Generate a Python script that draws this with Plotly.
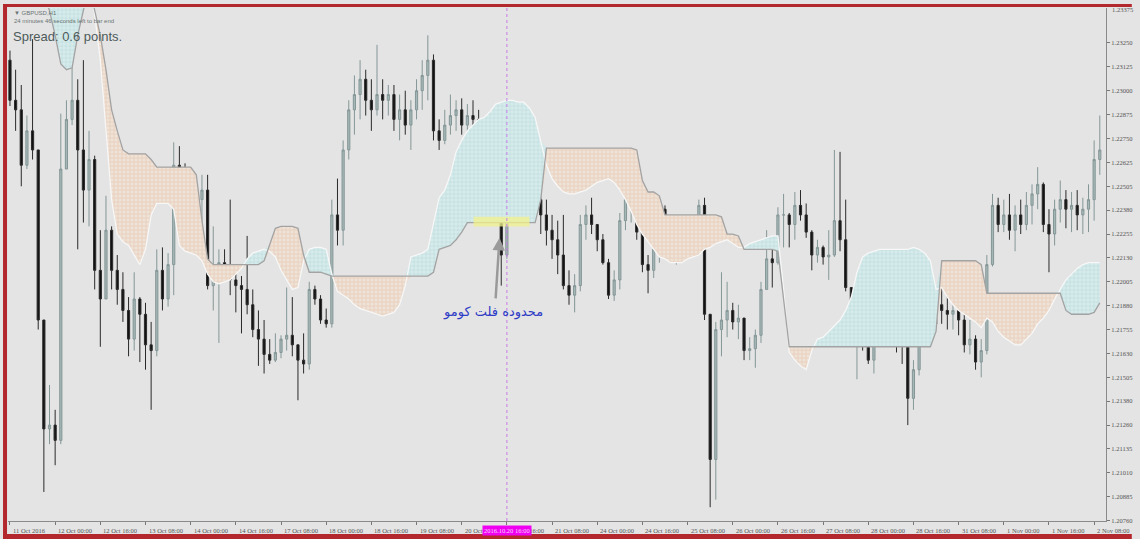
import numpy as np
import plotly.graph_objects as go

# ---------------- data (GBPUSD, bars of ~2h) ----------------
OPEN_FIRST = 1.2316

HIGH = [1.2321, 1.2311, 1.2303, 1.2287, 1.2327, 1.2269, 1.2180, 1.2146, 1.2133, 1.2288,
        1.2295, 1.2318, 1.2306, 1.2316, 1.2279, 1.2266, 1.2227, 1.2245, 1.2229, 1.2214,
        1.2205, 1.2192, 1.2205, 1.2192, 1.2189, 1.2179, 1.2217, 1.2218, 1.2215, 1.2273,
        1.2271, 1.2262, 1.2253, 1.2248, 1.2256, 1.2256, 1.2229, 1.2217, 1.2217, 1.2243,
        1.2207, 1.2203, 1.2224, 1.2196, 1.2185, 1.2180, 1.2170, 1.2173, 1.2172, 1.2197,
        1.2192, 1.2167, 1.2173, 1.2200, 1.2198, 1.2193, 1.2186, 1.2243, 1.2254, 1.2274,
        1.2295, 1.2308, 1.2316, 1.2311, 1.2306, 1.2324, 1.2306, 1.2303, 1.2303, 1.2298,
        1.2300, 1.2295, 1.2306, 1.2316, 1.2329, 1.2319, 1.2285, 1.2290, 1.2298, 1.2295,
        1.2296, 1.2293, 1.2295, 1.2290, 1.2285, 1.2277, 1.2272, 1.2269, 1.2259, 1.2269,
        1.2269, 1.2259, 1.2264, 1.2261, 1.2248, 1.2243, 1.2235, 1.2232, 1.2235, 1.2206,
        1.2204, 1.2235, 1.2240, 1.2244, 1.2230, 1.2225, 1.2212, 1.2206, 1.2236, 1.2253,
        1.2251, 1.2246, 1.2234, 1.2214, 1.2220, 1.2243, 1.2240, 1.2226, 1.2223, 1.2230,
        1.2228, 1.2233, 1.2243, 1.2244, 1.2183, 1.2179, 1.2205, 1.2200, 1.2189, 1.2188,
        1.2181, 1.2171, 1.2175, 1.2200, 1.2227, 1.2218, 1.2239, 1.2246, 1.2236, 1.2247,
        1.2248, 1.2241, 1.2227, 1.2222, 1.2219, 1.2227, 1.2269, 1.2268, 1.2243, 1.2197,
        1.2180, 1.2180, 1.2172, 1.2182, 1.2186, 1.2191, 1.2185, 1.2183, 1.2178, 1.2171,
        1.2159, 1.2197, 1.2200, 1.2195, 1.2196, 1.2197, 1.2196, 1.2192, 1.2191, 1.2183,
        1.2180, 1.2172, 1.2170, 1.2214, 1.2246, 1.2244, 1.2243, 1.2246, 1.2240, 1.2243,
        1.2247, 1.2251, 1.2260, 1.2252, 1.2238, 1.2243, 1.2253, 1.2248, 1.2247, 1.2248,
        1.2244, 1.2251, 1.2274, 1.2287]

LOW = [1.2292, 1.2279, 1.2250, 1.2259, 1.2264, 1.2175, 1.2090, 1.2115, 1.2104, 1.2115,
       1.2259, 1.2282, 1.2217, 1.2231, 1.2229, 1.2196, 1.2166, 1.2191, 1.2196, 1.2188,
       1.2179, 1.2161, 1.2164, 1.2158, 1.2154, 1.2133, 1.2161, 1.2185, 1.2187, 1.2193,
       1.2251, 1.2243, 1.2224, 1.2218, 1.2219, 1.2196, 1.2185, 1.2168, 1.2201, 1.2193,
       1.2184, 1.2173, 1.2183, 1.2171, 1.2156, 1.2152, 1.2157, 1.2158, 1.2160, 1.2164,
       1.2161, 1.2138, 1.2152, 1.2154, 1.2188, 1.2178, 1.2176, 1.2176, 1.2219, 1.2219,
       1.2264, 1.2277, 1.2285, 1.2287, 1.2279, 1.2287, 1.2285, 1.2287, 1.2279, 1.2274,
       1.2277, 1.2269, 1.2285, 1.2290, 1.2295, 1.2274, 1.2269, 1.2272, 1.2277, 1.2279,
       1.2277, 1.2274, 1.2277, 1.2269, 1.2264, 1.2256, 1.2251, 1.2198, 1.2212, 1.2243,
       1.2238, 1.2238, 1.2240, 1.2235, 1.2225, 1.2219, 1.2212, 1.2204, 1.2196, 1.2188,
       1.2184, 1.2195, 1.2222, 1.2225, 1.2216, 1.2209, 1.2191, 1.2190, 1.2196, 1.2227,
       1.2231, 1.2222, 1.2205, 1.2194, 1.2202, 1.2210, 1.2214, 1.2212, 1.2209, 1.2214,
       1.2216, 1.2216, 1.2222, 1.2180, 1.2082, 1.2086, 1.2161, 1.2171, 1.2175, 1.2170,
       1.2159, 1.2159, 1.2155, 1.2168, 1.2196, 1.2197, 1.2209, 1.2218, 1.2218, 1.2222,
       1.2232, 1.2223, 1.2206, 1.2210, 1.2209, 1.2201, 1.2213, 1.2216, 1.2195, 1.2168,
       1.2149, 1.2164, 1.2157, 1.2152, 1.2171, 1.2174, 1.2169, 1.2163, 1.2157, 1.2125,
       1.2133, 1.2151, 1.2180, 1.2174, 1.2175, 1.2178, 1.2175, 1.2175, 1.2172, 1.2163,
       1.2162, 1.2154, 1.2150, 1.2162, 1.2208, 1.2226, 1.2226, 1.2222, 1.2216, 1.2225,
       1.2227, 1.2230, 1.2238, 1.2226, 1.2205, 1.2219, 1.2231, 1.2228, 1.2226, 1.2227,
       1.2225, 1.2226, 1.2232, 1.2256]

CLOSE = [1.2295, 1.2290, 1.2261, 1.2279, 1.2269, 1.2180, 1.2123, 1.2125, 1.2117, 1.2259,
         1.2285, 1.2295, 1.2269, 1.2248, 1.2264, 1.2206, 1.2191, 1.2227, 1.2206, 1.2196,
         1.2185, 1.2170, 1.2191, 1.2183, 1.2167, 1.2164, 1.2206, 1.2191, 1.2209, 1.2261,
         1.2256, 1.2251, 1.2227, 1.2243, 1.2248, 1.2198, 1.2201, 1.2210, 1.2206, 1.2201,
         1.2198, 1.2196, 1.2188, 1.2175, 1.2170, 1.2162, 1.2159, 1.2163, 1.2170, 1.2172,
         1.2167, 1.2159, 1.2157, 1.2196, 1.2191, 1.2180, 1.2178, 1.2235, 1.2227, 1.2269,
         1.2290, 1.2298, 1.2306, 1.2295, 1.2290, 1.2298, 1.2295, 1.2298, 1.2285, 1.2290,
         1.2282, 1.2290, 1.2300, 1.2308, 1.2316, 1.2279, 1.2274, 1.2282, 1.2287, 1.2290,
         1.2282, 1.2287, 1.2285, 1.2277, 1.2269, 1.2264, 1.2256, 1.2214, 1.2253, 1.2261,
         1.2243, 1.2253, 1.2248, 1.2243, 1.2235, 1.2227, 1.2222, 1.2214, 1.2198, 1.2193,
         1.2198, 1.2230, 1.2235, 1.2230, 1.2222, 1.2210, 1.2193, 1.2201, 1.2232, 1.2243,
         1.2246, 1.2226, 1.2209, 1.2206, 1.2217, 1.2238, 1.2222, 1.2214, 1.2219, 1.2226,
         1.2219, 1.2230, 1.2240, 1.2183, 1.2107, 1.2175, 1.2180, 1.2185, 1.2179, 1.2181,
         1.2164, 1.2165, 1.2172, 1.2196, 1.2212, 1.2210, 1.2235, 1.2235, 1.2230, 1.2240,
         1.2235, 1.2226, 1.2214, 1.2218, 1.2213, 1.2214, 1.2232, 1.2222, 1.2197, 1.2172,
         1.2175, 1.2167, 1.2159, 1.2178, 1.2183, 1.2185, 1.2172, 1.2170, 1.2167, 1.2139,
         1.2154, 1.2191, 1.2191, 1.2178, 1.2188, 1.2185, 1.2183, 1.2185, 1.2180, 1.2167,
         1.2170, 1.2158, 1.2164, 1.2209, 1.2240, 1.2230, 1.2235, 1.2227, 1.2235, 1.2230,
         1.2240, 1.2246, 1.2251, 1.2230, 1.2225, 1.2238, 1.2243, 1.2238, 1.2240, 1.2235,
         1.2238, 1.2243, 1.2264, 1.2269]

# Ichimoku cloud spans (A = light edge, B = grey edge)
SPAN_A = [1.2368, 1.2368, 1.2368, 1.2368, 1.2368, 1.2368, 1.2368, 1.2368, 1.2368, 1.2368,
          1.2368, 1.2368, 1.2368, 1.2368, 1.2358, 1.2340, 1.2316, 1.2277, 1.2243, 1.2225,
          1.2221, 1.2219, 1.2214, 1.2209, 1.2217, 1.2235, 1.2241, 1.2241, 1.2241, 1.2238,
          1.2219, 1.2216, 1.2215, 1.2214, 1.2211, 1.2204, 1.2200, 1.2199, 1.2200, 1.2201,
          1.2204, 1.2207, 1.2212, 1.2215, 1.2216, 1.2217, 1.2216, 1.2213, 1.2206, 1.2201,
          1.2196, 1.2197, 1.2211, 1.2217, 1.2218, 1.2218, 1.2217, 1.2204, 1.2195, 1.2193,
          1.2191, 1.2188, 1.2186, 1.2185, 1.2184, 1.2183, 1.2182, 1.2183, 1.2184, 1.2188,
          1.2198, 1.2213, 1.2214, 1.2215, 1.2217, 1.2231, 1.2244, 1.2248, 1.2256, 1.2268,
          1.2274, 1.2279, 1.2282, 1.2285, 1.2286, 1.2289, 1.2293, 1.2294, 1.2295, 1.2295,
          1.2294, 1.2294, 1.2291, 1.2286, 1.2274, 1.2261, 1.2254, 1.2250, 1.2247, 1.2246,
          1.2246, 1.2247, 1.2248, 1.2250, 1.2252, 1.2253, 1.2254, 1.2252, 1.2248, 1.2243,
          1.2237, 1.2230, 1.2225, 1.2221, 1.2217, 1.2213, 1.2212, 1.2210, 1.2210, 1.2210,
          1.2212, 1.2213, 1.2214, 1.2217, 1.2218, 1.2220, 1.2221, 1.2222, 1.2220, 1.2218,
          1.2218, 1.2220, 1.2221, 1.2222, 1.2223, 1.2224, 1.2224, 1.2196, 1.2163, 1.2159,
          1.2156, 1.2154, 1.2164, 1.2170, 1.2171, 1.2174, 1.2177, 1.2180, 1.2185, 1.2192,
          1.2205, 1.2213, 1.2215, 1.2216, 1.2217, 1.2217, 1.2217, 1.2217, 1.2217, 1.2217,
          1.2218, 1.2217, 1.2215, 1.2211, 1.2196, 1.2197, 1.2192, 1.2188, 1.2185, 1.2183,
          1.2181, 1.2179, 1.2176, 1.2181, 1.2179, 1.2174, 1.2171, 1.2169, 1.2167, 1.2167,
          1.2170, 1.2173, 1.2178, 1.2181, 1.2185, 1.2191, 1.2196, 1.2201, 1.2204, 1.2207,
          1.2209, 1.2210, 1.2210, 1.2210]

SPAN_B = [1.2358, 1.2358, 1.2358, 1.2358, 1.2358, 1.2358, 1.2350, 1.2342, 1.2329, 1.2314,
          1.2311, 1.2312, 1.2329, 1.2342, 1.2355, 1.2342, 1.2329, 1.2311, 1.2290, 1.2279,
          1.2269, 1.2267, 1.2267, 1.2267, 1.2267, 1.2264, 1.2260, 1.2260, 1.2260, 1.2260,
          1.2260, 1.2260, 1.2260, 1.2256, 1.2232, 1.2212, 1.2209, 1.2209, 1.2209, 1.2209,
          1.2209, 1.2209, 1.2209, 1.2209, 1.2209, 1.2211, 1.2219, 1.2228, 1.2229, 1.2229,
          1.2229, 1.2228, 1.2214, 1.2205, 1.2205, 1.2205, 1.2204, 1.2203, 1.2203, 1.2203,
          1.2203, 1.2203, 1.2203, 1.2203, 1.2203, 1.2203, 1.2203, 1.2203, 1.2203, 1.2203,
          1.2203, 1.2203, 1.2203, 1.2203, 1.2203, 1.2205, 1.2217, 1.2218, 1.2219, 1.2222,
          1.2226, 1.2231, 1.2231, 1.2231, 1.2231, 1.2231, 1.2231, 1.2231, 1.2231, 1.2231,
          1.2231, 1.2231, 1.2231, 1.2231, 1.2243, 1.2270, 1.2270, 1.2270, 1.2270, 1.2270,
          1.2270, 1.2270, 1.2270, 1.2270, 1.2270, 1.2270, 1.2270, 1.2270, 1.2270, 1.2270,
          1.2270, 1.2269, 1.2253, 1.2247, 1.2247, 1.2245, 1.2235, 1.2235, 1.2235, 1.2235,
          1.2235, 1.2235, 1.2235, 1.2235, 1.2235, 1.2235, 1.2234, 1.2225, 1.2225, 1.2224,
          1.2217, 1.2217, 1.2217, 1.2217, 1.2217, 1.2217, 1.2216, 1.2191, 1.2166, 1.2166,
          1.2166, 1.2166, 1.2166, 1.2166, 1.2166, 1.2166, 1.2166, 1.2166, 1.2166, 1.2166,
          1.2166, 1.2166, 1.2166, 1.2166, 1.2166, 1.2166, 1.2166, 1.2166, 1.2166, 1.2166,
          1.2166, 1.2166, 1.2166, 1.2166, 1.2174, 1.2211, 1.2211, 1.2211, 1.2211, 1.2211,
          1.2211, 1.2211, 1.2209, 1.2194, 1.2194, 1.2194, 1.2194, 1.2194, 1.2194, 1.2194,
          1.2194, 1.2194, 1.2194, 1.2194, 1.2194, 1.2194, 1.2194, 1.2185, 1.2183, 1.2183,
          1.2183, 1.2183, 1.2184, 1.2189]

X_LABELS = ["11 Oct 2016", "12 Oct 00:00", "12 Oct 16:00", "13 Oct 08:00", "14 Oct 00:00",
            "14 Oct 16:00", "17 Oct 08:00", "18 Oct 00:00", "18 Oct 16:00", "19 Oct 08:00",
            "20 Oct 00:00", "20 Oct 16:00", "21 Oct 08:00", "24 Oct 00:00", "24 Oct 16:00",
            "25 Oct 08:00", "26 Oct 00:00", "26 Oct 16:00", "27 Oct 08:00", "28 Oct 00:00",
            "28 Oct 16:00", "31 Oct 08:00", "1 Nov 00:00", "1 Nov 16:00", "2 Nov 08:00"]
BARS_PER_LABEL = 8

Y_TICK_VALUES = [1.23250, 1.23125, 1.23000, 1.22875, 1.22750, 1.22625, 1.22500, 1.22375,
                 1.22250, 1.22125, 1.22000, 1.21875, 1.21750, 1.21625, 1.21500, 1.21375,
                 1.21250, 1.21125, 1.21000, 1.20875, 1.20750]
Y_TICK_TEXT = ["1.23250", "1.23125", "1.23000", "1.22875", "1.22750", "1.22625", "1.22505",
               "1.22380", "1.22255", "1.22130", "1.22005", "1.21880", "1.21755", "1.21630",
               "1.21505", "1.21380", "1.21260", "1.21135", "1.21010", "1.20885", "1.20760"]
TOP_PRICE_TEXT = "1.23375"

SYMBOL_TEXT = "▼ GBPUSD,H1"
TIMER_TEXT = "24 minutes 46 seconds left to bar end"
SPREAD_TEXT = "Spread: 0.6 points."
CURSOR_TEXT = "2016.10.20 16:00"
CURSOR_BAR = 88
NOTE_TEXT = "محدوده فلت کومو"

# ---------------- figure ----------------
W, H = 1140, 539
ML, MR, MT, MB = 8, 26, 8, 18
PW, PH = W - ML - MR, H - MT - MB


def pxx(px):
    return (px - ML) / PW


def pxy(py):
    return (H - MB - py) / PH


n = len(CLOSE)
idx = list(range(n))
opens = [OPEN_FIRST] + CLOSE[:-1]
a = np.array(SPAN_A)
b = np.array(SPAN_B)
bull_edge = np.maximum(a, b)
bear_edge = np.minimum(a, b)

BG = "#e4e4e4"
fig = go.Figure()
nofill_line = dict(width=0, color="rgba(0,0,0,0)")

fig.add_trace(go.Scatter(x=idx, y=b, mode="lines", line=nofill_line, hoverinfo="skip"))
fig.add_trace(go.Scatter(x=idx, y=bull_edge, mode="lines", line=nofill_line, fill="tonexty",
                         fillcolor="#cfe6e7",
                         fillpattern=dict(shape="+", fgcolor="#a9d2d6", bgcolor="#d7ebeb",
                                          size=4, solidity=0.35),
                         hoverinfo="skip"))
fig.add_trace(go.Scatter(x=idx, y=b, mode="lines", line=nofill_line, hoverinfo="skip"))
fig.add_trace(go.Scatter(x=idx, y=bear_edge, mode="lines", line=nofill_line, fill="tonexty",
                         fillcolor="#ecd8c6",
                         fillpattern=dict(shape="+", fgcolor="#deb89c", bgcolor="#efe2d6",
                                          size=4, solidity=0.35),
                         hoverinfo="skip"))
fig.add_trace(go.Scatter(x=idx, y=SPAN_A, mode="lines", line=dict(color="#f7f7f7", width=1.3),
                         hoverinfo="skip"))
fig.add_trace(go.Scatter(x=idx, y=SPAN_B, mode="lines", line=dict(color="#a3a3a3", width=1.3),
                         hoverinfo="skip"))

fig.add_trace(go.Candlestick(
    x=idx, open=opens, high=HIGH, low=LOW, close=CLOSE,
    increasing=dict(line=dict(color="#849696", width=1), fillcolor="#a6b7b7"),
    decreasing=dict(line=dict(color="#2a2a2a", width=1), fillcolor="#121212"),
    whiskerwidth=0, hoverinfo="skip"))

annotations = []
label_font = dict(family="Liberation Serif", size=6.5, color="#555555")
for k, lab in enumerate(X_LABELS):
    annotations.append(dict(x=k * BARS_PER_LABEL, xref="x", y=pxy(530), yref="paper",
                            text=lab, showarrow=False, xanchor="left", yanchor="middle",
                            xshift=1, font=label_font))
annotations.append(dict(x=CURSOR_BAR, xref="x", y=pxy(530), yref="paper", text=CURSOR_TEXT,
                        showarrow=False, xanchor="center", yanchor="middle",
                        bgcolor="#f000f0", borderpad=1,
                        font=dict(family="Liberation Serif", size=6.5, color="#fbd6fb")))
annotations.append(dict(x=pxx(1118), xref="paper", y=pxy(9), yref="paper",
                        text=TOP_PRICE_TEXT, showarrow=False, xanchor="left",
                        yanchor="middle", font=label_font))
annotations.append(dict(x=pxx(12), xref="paper", y=pxy(13), yref="paper", text=SYMBOL_TEXT,
                        showarrow=False, xanchor="left", yanchor="middle",
                        font=dict(family="Liberation Sans", size=6, color="#6a7474")))
annotations.append(dict(x=pxx(12), xref="paper", y=pxy(21), yref="paper", text=TIMER_TEXT,
                        showarrow=False, xanchor="left", yanchor="middle",
                        font=dict(family="Liberation Sans", size=6, color="#6a7474")))
annotations.append(dict(x=pxx(11), xref="paper", y=pxy(36), yref="paper", text=SPREAD_TEXT,
                        showarrow=False, xanchor="left", yanchor="middle",
                        font=dict(family="Liberation Sans", size=13, color="#4c5a5a")))
# arrow pointing at the flat kumo
annotations.append(dict(x=86.7, xref="x", y=1.2223, yref="y", text="", showarrow=True,
                        ax=-4, ay=62, arrowcolor="#9a9a9a", arrowwidth=2.5,
                        arrowhead=2, arrowsize=1))
annotations.append(dict(x=85.6, xref="x", y=1.2184, yref="y", text=NOTE_TEXT,
                        showarrow=False, xanchor="center", yanchor="middle",
                        font=dict(family="DejaVu Sans", size=13, color="#2e3bc6")))

shapes = [
    # flat-kumo highlight
    dict(type="rect", xref="x", yref="y", x0=82.1, x1=92.0, y0=1.2229, y1=1.2234,
         fillcolor="rgba(242,242,140,0.75)", line=dict(width=0), layer="above"),
    # cursor line
    dict(type="line", xref="x", yref="paper", x0=CURSOR_BAR, x1=CURSOR_BAR, y0=0, y1=1,
         line=dict(color="#c77ce8", width=1, dash="dot")),
    # red frame
    dict(type="line", xref="paper", yref="paper", x0=pxx(5), x1=pxx(5), y0=pxy(539), y1=pxy(4),
         line=dict(color="#b3282c", width=4)),
    dict(type="line", xref="paper", yref="paper", x0=pxx(3), x1=pxx(1140), y0=pxy(5.5),
         y1=pxy(5.5), line=dict(color="#b3282c", width=3)),
    dict(type="line", xref="paper", yref="paper", x0=pxx(3), x1=pxx(1140), y0=pxy(536.5),
         y1=pxy(536.5), line=dict(color="#b3282c", width=5)),
]

fig.update_layout(
    width=W, height=H,
    margin=dict(l=ML, r=MR, t=MT, b=MB),
    paper_bgcolor=BG, plot_bgcolor=BG,
    showlegend=False, boxgap=0.45, dragmode=False,
    annotations=annotations, shapes=shapes,
    xaxis=dict(range=[-0.35, 194.1], showgrid=False, zeroline=False,
               tickvals=[k * BARS_PER_LABEL for k in range(len(X_LABELS))],
               ticks="outside", ticklen=3, tickcolor="#777777", showticklabels=False,
               showline=True, linecolor="#8a8a8a", linewidth=1,
               rangeslider=dict(visible=False), fixedrange=True),
    yaxis=dict(side="right", range=[1.20748, 1.23433], showgrid=False, zeroline=False,
               tickvals=Y_TICK_VALUES, ticktext=Y_TICK_TEXT, ticks="outside", ticklen=3,
               tickcolor="#777777", tickfont=label_font, showline=True,
               linecolor="#8a8a8a", linewidth=1, fixedrange=True),
)

# the page's default body margin would shift the 1140x539 figure; remove it
fig.write_html("out.html", config={"displayModeBar": False},
               post_script="document.body.style.margin='0px';"
                           "document.body.style.overflow='hidden';")
